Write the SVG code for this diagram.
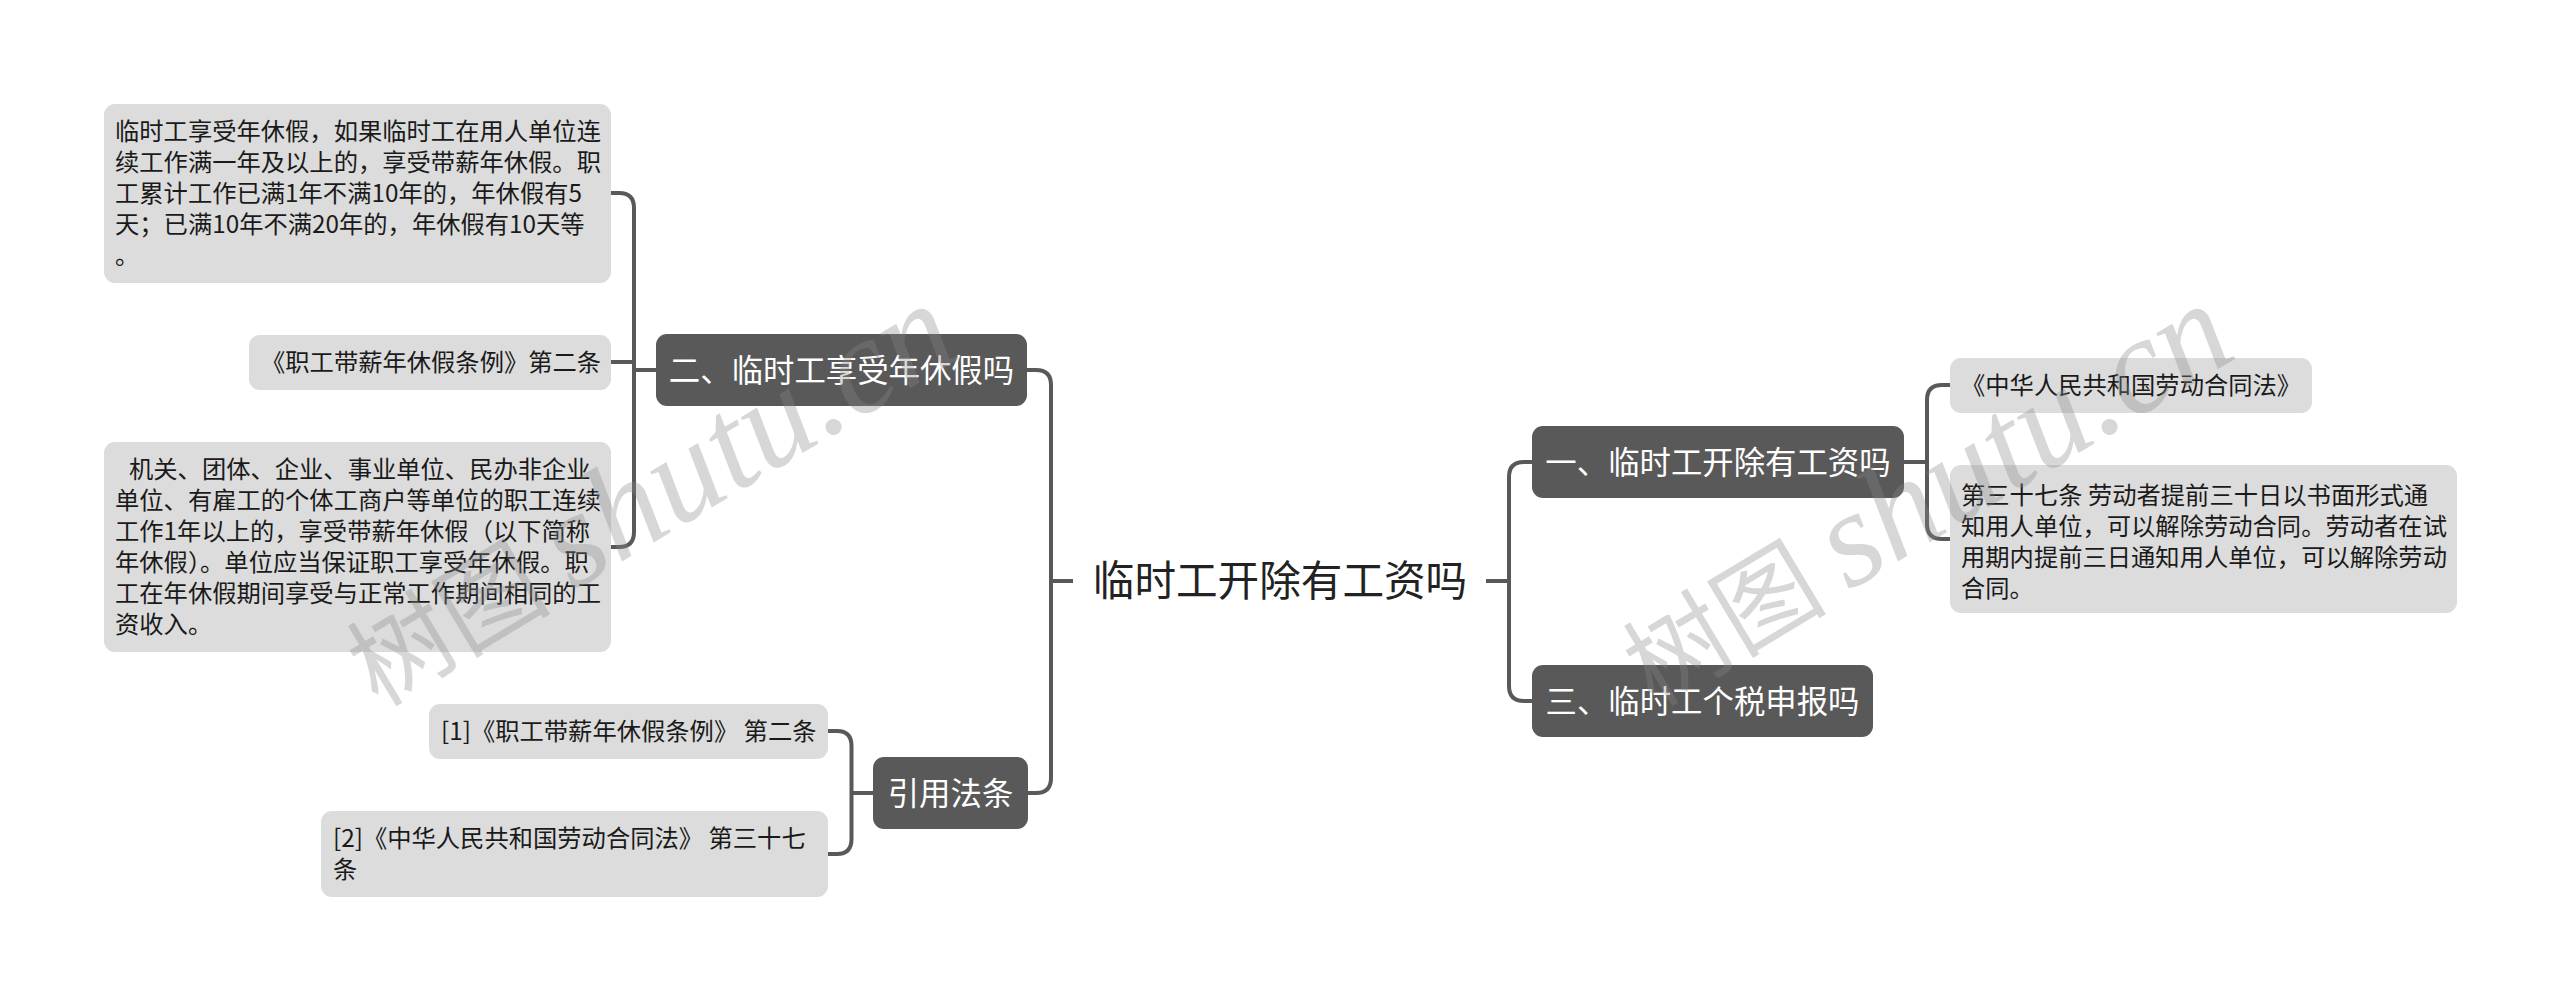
<svg xmlns="http://www.w3.org/2000/svg" width="2560" height="1001" viewBox="0 0 2560 1001">
<style>
text{font-family:"Noto Sans CJK SC","Noto Sans",sans-serif}
.leaf rect{fill:#dcdcdc}
.leaf text{font-size:24.3px;fill:#1a1a1a}
.branch rect{fill:#595959}
.branch text{font-size:31.4px;fill:#fff;text-anchor:middle}
.root text{font-size:41.6px;fill:#222;text-anchor:middle}
#connectors path{fill:none;stroke:#595959;stroke-width:4;stroke-linecap:butt}
.wm{font-family:"Noto Sans CJK SC",serif;font-size:102px;fill:#888;opacity:.33}
.wm tspan{font-family:"Liberation Serif",serif;font-style:italic;font-size:136px}
</style>
<rect width="2560" height="1001" fill="#fff"/>
<g id="connectors">
<path d="M1073 581H1051M1027 370H1036Q1051 370 1051 385V778Q1051 793 1036 793H1028"/>
<path d="M1486 581H1509M1532 462H1524Q1509 462 1509 477V686Q1509 701 1524 701H1532"/>
<path d="M656 370H634M611 193H619Q634 193 634 208V532Q634 547 619 547H611M611 362H634"/>
<path d="M873 793H851.5M828 731H837Q851.5 731 851.5 746V839Q851.5 854 837 854H828"/>
<path d="M1904 462H1927M1950 385H1942Q1927 385 1927 400V524Q1927 539 1942 539H1950"/>
</g>
<g id="root" class="root"><text x="1280" y="596">临时工开除有工资吗</text></g>
<g id="n2" class="branch"><rect x="656" y="334" width="371" height="72" rx="11"/><text x="841.5" y="382">二、临时工享受年休假吗</text></g>
<g id="n2a" class="leaf"><rect x="104" y="104" width="507" height="179" rx="11"/>
<text x="115" y="140">临时工享受年休假，如果临时工在用人单位连</text>
<text x="115" y="171">续工作满一年及以上的，享受带薪年休假。职</text>
<text x="115" y="202">工累计工作已满1年不满10年的，年休假有5</text>
<text x="115" y="233">天；已满10年不满20年的，年休假有10天等</text>
<text x="115" y="264">。</text></g>
<g id="n2b" class="leaf"><rect x="249" y="335" width="362" height="55" rx="11"/><text x="261" y="371">《职工带薪年休假条例》第二条</text></g>
<g id="n2c" class="leaf"><rect x="104" y="442" width="507" height="210" rx="11"/>
<text x="129" y="478">机关、团体、企业、事业单位、民办非企业</text>
<text x="115" y="509">单位、有雇工的个体工商户等单位的职工连续</text>
<text x="115" y="540">工作1年以上的，享受带薪年休假（以下简称</text>
<text x="115" y="571">年休假）。单位应当保证职工享受年休假。职</text>
<text x="115" y="602">工在年休假期间享受与正常工作期间相同的工</text>
<text x="115" y="633">资收入。</text></g>
<g id="n4" class="branch"><rect x="873" y="757" width="155" height="72" rx="11"/><text x="950.5" y="805">引用法条</text></g>
<g id="n4a" class="leaf"><rect x="429" y="704" width="399" height="55" rx="11"/><text x="441" y="740">[1]《职工带薪年休假条例》 第二条</text></g>
<g id="n4b" class="leaf"><rect x="321" y="811" width="507" height="86" rx="11"/><text x="333" y="847">[2]《中华人民共和国劳动合同法》 第三十七</text><text x="333" y="878">条</text></g>
<g id="n1" class="branch"><rect x="1532" y="426" width="372" height="72" rx="11"/><text x="1718" y="474">一、临时工开除有工资吗</text></g>
<g id="n1a" class="leaf"><rect x="1950" y="358" width="362" height="55" rx="11"/><text x="1961" y="394">《中华人民共和国劳动合同法》</text></g>
<g id="n1b" class="leaf"><rect x="1950" y="465" width="507" height="148" rx="11"/>
<text x="1961" y="504">第三十七条 劳动者提前三十日以书面形式通</text>
<text x="1961" y="535">知用人单位，可以解除劳动合同。劳动者在试</text>
<text x="1961" y="566">用期内提前三日通知用人单位，可以解除劳动</text>
<text x="1961" y="597">合同。</text></g>
<g id="n3" class="branch"><rect x="1532" y="665" width="341" height="72" rx="11"/><text x="1702.5" y="713">三、临时工个税申报吗</text></g>
<g id="watermarks">
<text class="wm" transform="translate(378 708) rotate(-31)">树图 <tspan>shutu.cn</tspan></text>
<text class="wm" transform="translate(1654 708) rotate(-31)">树图 <tspan>shutu.cn</tspan></text>
</g>
</svg>
